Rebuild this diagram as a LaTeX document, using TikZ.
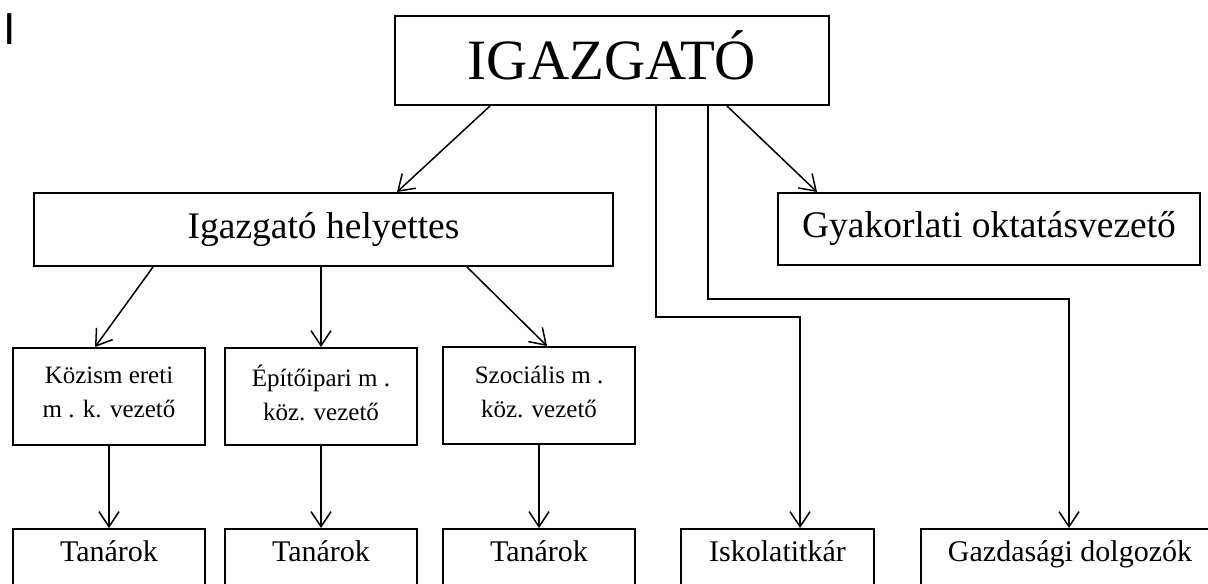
\documentclass[tikz,border=0pt]{standalone}
\usepackage{fontspec}
\setmainfont{Liberation Serif}
\newfontfamily\marksans{Liberation Sans}
\usepackage{tikz}
\usetikzlibrary{arrows.meta}

\tikzset{
    unit/.style={draw, line width=1pt, inner sep=0pt, align=center},
    head/.style={unit, minimum width=96pt, minimum height=48.5pt, text depth=4pt, font=\fontsize{12.5}{17}\selectfont},
    staff/.style={unit, anchor=north, minimum width=96pt, text height=16pt, text depth=30pt, font=\fontsize{15}{18}\selectfont},
    arr/.style={-{Straight Barb[length=7.5pt,width=10pt]}, line width=0.75pt},
}

\begin{document}
\begin{tikzpicture}[x=0.5pt, y=-0.5pt]
\useasboundingbox (0,0) rectangle (1208,583);
\clip (0,0) rectangle (1208,583);

\node[inner sep=0pt, font=\marksans\fontsize{22.4}{24}\selectfont] (mark) at (10,29) {I};

\begin{scope}[every node/.style={unit}]
    \node[minimum width=217pt, minimum height=44.5pt, text depth=5pt, font=\fontsize{28.5}{30}\selectfont] (boss) at (612,60.5) {IGAZGATÓ};
    \node[minimum width=289.5pt, minimum height=36.5pt, font=\fontsize{18.75}{20}\selectfont] (deputy) at (323.5,229.5) {Igazgató helyettes};
    \node[minimum width=211pt, minimum height=36pt, font=\fontsize{18.75}{20}\selectfont] (practice) at (989,229) {Gyakorlati oktatásvezető};
\end{scope}

\node[head] (head1) at (109,396.5) {Közism ereti\\m . k. vezető};
\node[head] (head2) at (321,396.5) {Építőipari m .\\köz. vezető};
\node[head] (head3) at (539,395.5) {Szociális m .\\köz. vezető};

\node[staff] (staff1) at (109,528) {Tanárok};
\node[staff] (staff2) at (321,528) {Tanárok};
\node[staff] (staff3) at (539,528) {Tanárok};
\node[staff, minimum width=96.5pt] (clerk) at (777.5,528) {Iskolatitkár};
\node[staff, minimum width=149pt] (eco) at (1070,528) {Gazdasági dolgozók};

\coordinate (bendA) at (800,317);
\coordinate (bendB) at (1069,299);

\begin{scope}[every edge/.style={draw, arr}]
    \path (boss.south -| 490,0) edge (deputy.north -| 397,0);
    \path (boss.south -| 727,0) edge (practice.north -| 817,0);
    \path (deputy.south -| 153,0) edge (head1.north -| 95,0);
    \path (deputy.south -| head2.north) edge (head2.north);
    \path (deputy.south -| 467,0) edge (head3.north -| 547,0);
    \path (head1.south) edge (staff1.north);
    \path (head2.south) edge (staff2.north);
    \path (head3.south) edge (staff3.north);
\end{scope}

\draw[arr] (boss.south -| 656,0) |- (bendA) -- (clerk.north -| bendA);
\draw[arr] (boss.south -| 708,0) |- (bendB) -- (eco.north -| bendB);
\end{tikzpicture}
\end{document}
